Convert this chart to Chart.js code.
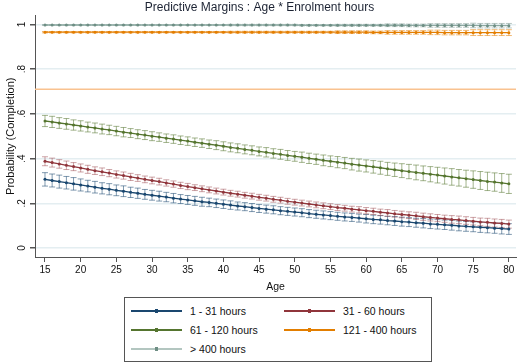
<!DOCTYPE html>
<html>
<head>
<meta charset="utf-8">
<script src="https://cdn.jsdelivr.net/npm/chart.js@4"></script>
<style>
  html, body { margin: 0; padding: 0; background: #ffffff; }
  #wrap { position: relative; width: 520px; height: 362px; font-family: "Liberation Sans", Arial, sans-serif; }
  #legend { position: absolute; left: 124px; top: 297px; width: 306px; height: 63px; border: 1px solid #555; background: #fff; box-sizing: content-box; }
  .item { position: absolute; height: 14px; font-size: 10.5px; color: #111; white-space: nowrap; }
  .item .ln { position: absolute; left: 0; top: 6px; width: 51px; height: 2px; }
  .item .mk { position: absolute; left: 24px; top: 5px; width: 3px; height: 4px; }
  .item .tx { position: absolute; left: 59px; top: 0px; line-height: 14px; }
</style>
</head>
<body>
<div id="wrap">
  <canvas id="c" width="520" height="362"></canvas>
  <div id="legend"></div>
</div>
<script>
const ages = [15,16,17,18,19,20,21,22,23,24,25,26,27,28,29,30,31,32,33,34,35,36,37,38,39,40,41,42,43,44,45,46,47,48,49,50,51,52,53,54,55,56,57,58,59,60,61,62,63,64,65,66,67,68,69,70,71,72,73,74,75,76,77,78,79,80];

const seriesNames = ['1 - 31 hours', '31 - 60 hours', '61 - 120 hours', '121 - 400 hours', '> 400 hours'];

const hours1to31 = [.307,.302,.297,.292,.287,.282,.277,.272,.267,.263,
  .258,.254,.249,.245,.240,.236,.232,.228,.223,.219,
  .215,.211,.207,.204,.200,.196,.192,.188,.185,.181,
  .177,.174,.171,.167,.164,.161,.158,.154,.151,.148,
  .145,.142,.139,.137,.134,.131,.128,.126,.123,.121,
  .118,.116,.113,.111,.108,.106,.104,.102,.099,.097,
  .095,.093,.091,.089,.087,.085];
const hours31to60 = [.388,.382,.376,.370,.364,.358,.352,.346,.341,.335,
  .329,.324,.318,.313,.307,.302,.297,.291,.286,.280,
  .275,.270,.265,.260,.255,.250,.245,.241,.236,.232,
  .227,.223,.218,.214,.209,.205,.201,.197,.193,.189,
  .185,.181,.178,.174,.171,.167,.164,.160,.157,.153,
  .150,.147,.144,.140,.137,.134,.131,.128,.126,.123,
  .120,.117,.115,.112,.110,.107];
const hours61to120 = [.568,.564,.559,.555,.550,.546,.541,.537,.532,.528,
  .523,.518,.514,.509,.505,.500,.496,.491,.487,.482,
  .478,.473,.469,.464,.460,.455,.450,.446,.441,.437,
  .432,.428,.423,.419,.414,.410,.406,.401,.397,.392,
  .388,.384,.380,.375,.371,.367,.363,.359,.354,.350,
  .346,.342,.338,.334,.330,.326,.322,.318,.314,.310,
  .306,.302,.298,.295,.291,.287];
const hours121to400 = [.965,.965,.965,.965,.965,.965,.965,.965,.965,.965,
  .965,.965,.965,.965,.965,.965,.965,.965,.965,.965,
  .965,.965,.965,.965,.965,.965,.965,.965,.965,.965,
  .965,.965,.965,.965,.965,.965,.965,.965,.965,.965,
  .965,.965,.965,.965,.965,.965,.964,.964,.964,.964,
  .964,.964,.964,.964,.964,.964,.963,.963,.963,.963,
  .963,.963,.963,.963,.963,.963];
const hoursOver400 = [.997,.997,.997,.997,.997,.997,.997,.997,.997,.997,
  .997,.997,.997,.997,.997,.997,.997,.997,.997,.997,
  .997,.997,.997,.997,.997,.997,.997,.997,.997,.997,
  .997,.997,.997,.997,.997,.997,.996,.996,.996,.996,
  .996,.996,.996,.996,.996,.996,.996,.996,.996,.996,
  .996,.995,.995,.995,.995,.995,.995,.995,.995,.995,
  .995,.994,.994,.994,.994,.994];

// half-widths of the 95% confidence intervals
const ci1to31 = [.030,.029,.029,.028,.028,.027,.026,.026,.025,.025,
  .024,.024,.023,.023,.022,.022,.022,.021,.021,.020,
  .020,.020,.020,.019,.019,.019,.019,.018,.018,.018,
  .018,.018,.018,.018,.018,.018,.018,.018,.018,.018,
  .018,.018,.018,.018,.018,.019,.019,.019,.019,.020,
  .020,.020,.020,.021,.021,.021,.021,.022,.022,.022,
  .022,.023,.023,.023,.024,.024];
const ci31to60 = [.020,.020,.019,.019,.018,.018,.018,.017,.017,.016,
  .016,.016,.016,.015,.015,.015,.015,.014,.014,.014,
  .014,.013,.013,.013,.013,.013,.013,.013,.013,.013,
  .013,.013,.013,.013,.013,.013,.013,.013,.013,.013,
  .013,.013,.013,.013,.014,.014,.014,.014,.015,.015,
  .015,.015,.016,.016,.016,.016,.016,.017,.017,.017,
  .017,.017,.018,.018,.018,.018];
const ci61to120 = [.025,.025,.024,.024,.023,.023,.022,.022,.022,.021,
  .021,.021,.020,.020,.020,.020,.019,.019,.019,.019,
  .019,.019,.019,.019,.020,.020,.020,.020,.020,.020,
  .020,.021,.021,.022,.022,.022,.023,.023,.023,.024,
  .024,.025,.025,.026,.027,.027,.028,.029,.029,.030,
  .031,.032,.033,.033,.034,.035,.036,.037,.037,.038,
  .039,.040,.041,.041,.042,.043];
const ci121to400 = [.003,.003,.003,.003,.003,.003,.003,.003,.003,.003,
  .003,.003,.003,.003,.003,.003,.003,.003,.003,.003,
  .003,.003,.003,.003,.003,.003,.004,.004,.004,.004,
  .004,.004,.004,.004,.004,.004,.004,.004,.004,.004,
  .004,.006,.006,.006,.006,.006,.006,.006,.008,.008,
  .008,.008,.008,.008,.010,.010,.010,.010,.010,.010,
  .013,.013,.013,.013,.013,.013];
const ciOver400 = [.002,.002,.002,.002,.002,.002,.002,.002,.002,.002,
  .002,.002,.002,.002,.002,.002,.002,.002,.002,.002,
  .002,.002,.002,.002,.002,.002,.003,.003,.003,.003,
  .003,.003,.003,.003,.003,.003,.003,.003,.003,.003,
  .003,.004,.004,.004,.004,.004,.004,.004,.006,.006,
  .006,.006,.006,.006,.008,.008,.008,.008,.008,.008,
  .010,.010,.010,.010,.010,.010];

const refLineValue = 0.71;

const xTickValues = [15,20,25,30,35,40,45,50,55,60,65,70,75,80];
const yTickValues = [0, 0.2, 0.4, 0.6, 0.8, 1];
const yTickLabels = ['0', '.2', '.4', '.6', '.8', '1'];

const X_MIN = 13.6, X_MAX = 81.0, Y_MIN = -0.04, Y_MAX = 1.04;

const seriesValues = [hours1to31, hours31to60, hours61to120, hours121to400, hoursOver400];
const seriesCI = [ci1to31, ci31to60, ci61to120, ci121to400, ciOver400];
const lineColors = ['#1a476f', '#90353b', '#55752f', '#e37e00', '#8eaaa2'];
const markColors = ['#1a476f', '#90353b', '#55752f', '#e37e00', '#6e8e84'];
const errColors = ['rgba(26,71,111,0.55)', 'rgba(144,53,59,0.45)', 'rgba(85,117,47,0.55)', 'rgba(227,126,0,0.55)', 'rgba(110,142,132,0.5)'];
const legendLineColors = ['#1a476f', '#90353b', '#55752f', '#e37e00', '#b3c6c0'];

const FONT = '"Liberation Sans", Arial, sans-serif';

const datasets = [{
  label: 'ref',
  data: [{x: X_MIN, y: refLineValue}, {x: X_MAX, y: refLineValue}],
  borderColor: '#f9c28f',
  borderWidth: 1.5,
  pointRadius: 0,
  order: 10
}];
seriesValues.forEach((vals, i) => {
  datasets.push({
    label: seriesNames[i],
    data: ages.map((a, j) => ({x: a, y: vals[j]})),
    ciHalf: seriesCI[i],
    errColor: errColors[i],
    borderColor: lineColors[i],
    backgroundColor: markColors[i],
    pointBackgroundColor: markColors[i],
    pointBorderWidth: 0,
    pointRadius: 1.5,
    borderWidth: 1.3,
    tension: 0,
    order: 5 - i
  });
});

const errorBars = {
  id: 'errorBars',
  beforeDatasetsDraw(chart) {
    const ctx = chart.ctx, ys = chart.scales.y;
    ctx.save();
    chart.data.datasets.forEach((ds, i) => {
      if (!ds.ciHalf) return;
      const meta = chart.getDatasetMeta(i);
      ctx.strokeStyle = ds.errColor;
      ctx.lineWidth = 1;
      meta.data.forEach((pt, j) => {
        const v = ds.data[j].y, h = ds.ciHalf[j];
        const yHi = ys.getPixelForValue(v + h), yLo = ys.getPixelForValue(v - h);
        const x = pt.x;
        ctx.beginPath();
        ctx.moveTo(x, yHi); ctx.lineTo(x, yLo);
        ctx.moveTo(x - 3, yHi); ctx.lineTo(x + 3, yHi);
        ctx.moveTo(x - 3, yLo); ctx.lineTo(x + 3, yLo);
        ctx.stroke();
      });
    });
    ctx.restore();
  }
};

const yLabels = {
  id: 'yLabels',
  afterDraw(chart) {
    const ctx = chart.ctx, ys = chart.scales.y;
    ctx.save();
    ctx.font = '10px ' + FONT;
    ctx.fillStyle = '#111';
    ctx.textAlign = 'center';
    ctx.textBaseline = 'middle';
    yTickValues.forEach((v, i) => {
      const y = ys.getPixelForValue(v);
      ctx.save();
      ctx.translate(22, y);
      ctx.rotate(-Math.PI / 2);
      ctx.fillText(yTickLabels[i], 0, 0);
      ctx.restore();
    });
    ctx.restore();
  }
};

new Chart(document.getElementById('c'), {
  type: 'line',
  data: { datasets },
  plugins: [errorBars, yLabels],
  options: {
    responsive: false,
    devicePixelRatio: 1,
    animation: false,
    layout: { padding: { left: 0, right: 1, top: 0, bottom: 65 } },
    plugins: {
      legend: { display: false },
      tooltip: { enabled: false },
      title: {
        display: true,
        text: 'Predictive Margins : Age * Enrolment hours',
        color: '#1c2333',
        font: { family: FONT, size: 12, weight: 'normal' },
        padding: { top: 0, bottom: 1 }
      }
    },
    scales: {
      x: {
        type: 'linear',
        min: X_MIN, max: X_MAX,
        afterBuildTicks(scale) { scale.ticks = xTickValues.map(v => ({ value: v })); },
        afterFit(scale) { scale.height = 40; },
        ticks: {
          color: '#111',
          font: { family: FONT, size: 10 },
          padding: 2,
          maxRotation: 0, minRotation: 0,
          callback: v => String(v)
        },
        grid: { drawOnChartArea: false, drawTicks: true, tickLength: 5, tickColor: '#555', color: '#555' },
        border: { display: true, color: '#555', width: 1 },
        title: { display: true, text: 'Age', color: '#111', font: { family: FONT, size: 10.5 }, padding: { top: 0, bottom: 4 } }
      },
      y: {
        type: 'linear',
        min: Y_MIN, max: Y_MAX,
        afterBuildTicks(scale) { scale.ticks = yTickValues.map(v => ({ value: v })); },
        afterFit(scale) { scale.width = 35; },
        ticks: { display: false },
        grid: { drawOnChartArea: true, drawTicks: true, tickLength: 5, tickColor: '#555', color: '#e4eef1', lineWidth: 1.5 },
        border: { display: true, color: '#555', width: 1 },
        title: { display: true, text: 'Probability (Completion)', color: '#111', font: { family: FONT, size: 11 }, padding: { top: 4, bottom: 0 } }
      }
    }
  }
});

// legend (HTML)
const legend = document.getElementById('legend');
const legendPos = [[6, 6], [159, 6], [6, 25], [159, 25], [6, 44]];
seriesNames.forEach((name, i) => {
  const it = document.createElement('div');
  it.className = 'item';
  it.style.left = legendPos[i][0] + 'px';
  it.style.top = legendPos[i][1] + 'px';
  const ln = document.createElement('div'); ln.className = 'ln'; ln.style.background = legendLineColors[i];
  const mk = document.createElement('div'); mk.className = 'mk'; mk.style.background = markColors[i];
  const tx = document.createElement('div'); tx.className = 'tx'; tx.textContent = name;
  it.appendChild(ln); it.appendChild(mk); it.appendChild(tx);
  legend.appendChild(it);
});
</script>
</body>
</html>
